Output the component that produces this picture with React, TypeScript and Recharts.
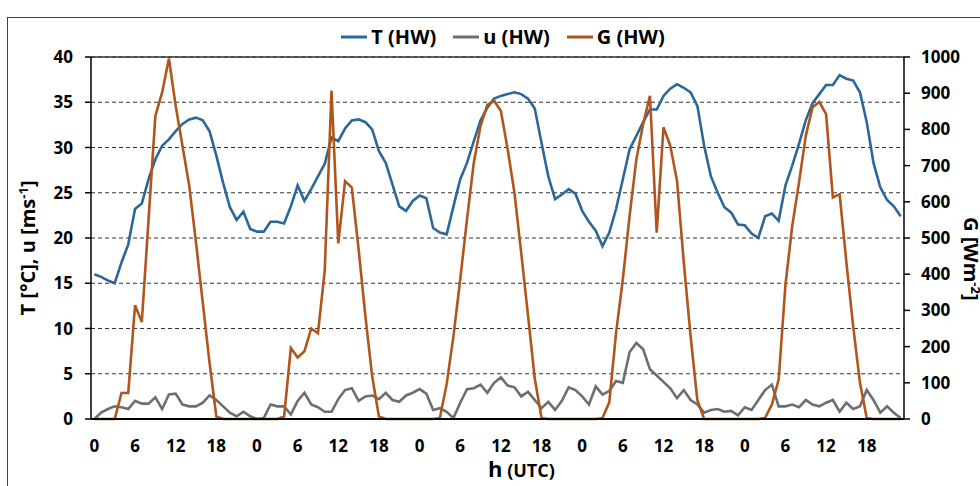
import React from "react";
import {
  LineChart,
  Line,
  XAxis,
  YAxis,
  CartesianGrid,
  Legend,
  ReferenceLine,
  Label,
} from "recharts";

// hourly values, 5 days x 24 h (one row per day)
const tempHW = [
  16.0, 15.7, 15.3, 15.0, 17.3, 19.3, 23.2, 23.8, 26.5, 28.7, 30.2, 30.9, 31.8, 32.6, 33.1, 33.3, 33.0, 31.8, 29.1, 26.1, 23.4, 22.0, 22.9, 21.0,
  20.7, 20.7, 21.8, 21.8, 21.6, 23.5, 25.8, 24.1, 25.4, 26.8, 28.2, 31.1, 30.7, 32.1, 33.0, 33.1, 32.8, 32.0, 29.6, 28.3, 25.9, 23.5, 23.0, 24.1,
  24.7, 24.4, 21.1, 20.6, 20.4, 23.5, 26.5, 28.3, 30.7, 33.0, 34.4, 35.4, 35.7, 35.9, 36.1, 35.9, 35.4, 34.3, 30.5, 26.8, 24.3, 24.8, 25.4, 24.9,
  23.0, 21.8, 20.8, 19.1, 20.6, 23.2, 26.5, 29.8, 31.3, 32.8, 34.2, 34.2, 35.7, 36.5, 37.0, 36.6, 36.1, 34.6, 30.2, 26.8, 25.0, 23.4, 22.8, 21.5,
  21.4, 20.5, 20.0, 22.4, 22.7, 21.9, 25.8, 28.0, 30.4, 33.0, 34.9, 35.9, 36.9, 36.9, 38.0, 37.6, 37.4, 36.1, 32.8, 28.3, 25.6, 24.2, 23.5, 22.4,
];

const windHW = [
  0.0, 0.7, 1.1, 1.4, 1.3, 1.1, 2.0, 1.7, 1.7, 2.4, 1.1, 2.7, 2.8, 1.6, 1.4, 1.4, 1.8, 2.6, 2.1, 1.4, 0.7, 0.3, 0.8, 0.3,
  0.0, 0.1, 1.6, 1.4, 1.4, 0.5, 2.0, 2.9, 1.6, 1.3, 0.8, 0.8, 2.2, 3.2, 3.4, 2.0, 2.5, 2.6, 2.2, 2.9, 2.1, 1.9, 2.6, 2.9,
  3.3, 2.8, 1.0, 1.2, 0.8, 0.1, 1.8, 3.3, 3.4, 3.8, 2.9, 4.0, 4.6, 3.7, 3.5, 2.5, 3.0, 2.1, 1.2, 1.9, 1.0, 2.0, 3.5, 3.2,
  2.5, 1.6, 3.6, 2.7, 3.1, 4.2, 4.0, 7.4, 8.4, 7.7, 5.5, 4.8, 4.1, 3.4, 2.3, 3.2, 2.1, 1.6, 0.7, 1.0, 1.1, 0.8, 0.9, 0.4,
  1.3, 1.0, 2.1, 3.2, 3.8, 1.4, 1.4, 1.6, 1.3, 2.1, 1.6, 1.4, 1.8, 2.1, 0.8, 1.8, 1.1, 1.4, 3.2, 2.1, 0.7, 1.4, 0.7, 0.1,
];

const radHW = [
  0, 0, 0, 0, 72, 72, 314, 268, 552, 837, 902, 996, 865, 755, 644, 487, 321, 155, 7, 0, 0, 0, 0, 0,
  0, 0, 0, 0, 7, 196, 170, 187, 250, 237, 410, 907, 485, 657, 639, 469, 284, 118, 7, 0, 0, 0, 0, 0,
  0, 0, 0, 3, 97, 229, 386, 552, 708, 810, 868, 879, 851, 745, 625, 459, 287, 112, 3, 0, 0, 0, 0, 0,
  0, 0, 0, 3, 46, 238, 386, 561, 718, 815, 893, 515, 806, 755, 658, 432, 229, 52, 0, 0, 0, 0, 0, 0,
  0, 0, 0, 3, 40, 109, 370, 533, 653, 782, 861, 876, 842, 612, 621, 432, 256, 100, 3, 0, 0, 0, 0, 0,
];

const seriesNames = ["T (HW)", "u (HW)", "G (HW)"];
const xTicks = [0, 6, 12, 18, 24, 30, 36, 42, 48, 54, 60, 66, 72, 78, 84, 90, 96, 102, 108, 114];
const hourLabels = ["0", "6", "12", "18"];
const leftTicks = [0, 5, 10, 15, 20, 25, 30, 35, 40];
const rightTicks = [0, 100, 200, 300, 400, 500, 600, 700, 800, 900, 1000];

const data = tempHW.map((t, i) => ({ h: i, T: t, u: windHW[i], G: radHW[i] }));

const FONT = "'Open Sans', 'DejaVu Sans', sans-serif";
const tickStyle = { fill: "#000", fontSize: 17, fontWeight: 700, fontFamily: FONT };

const renderLegend = (props: any) => {
  const items = [...(props.payload || [])].sort(
    (a: any, b: any) => seriesNames.indexOf(a.value) - seriesNames.indexOf(b.value)
  );
  return (
    <div
      style={{
        display: "flex",
        justifyContent: "center",
        gap: 17,
        fontFamily: FONT,
        fontWeight: 700,
        fontSize: 20,
        color: "#000",
      }}
    >
      {items.map((p: any) => (
        <span key={p.value} style={{ display: "flex", alignItems: "center" }}>
          <svg width={26} height={4} style={{ marginRight: 4 }}>
            <line x1={0} y1={2} x2={26} y2={2} stroke={p.color} strokeWidth={3} />
          </svg>
          {p.value}
        </span>
      ))}
    </div>
  );
};

const leftTitle = () => (
  <text
    transform="translate(35, 248) rotate(-90)"
    textAnchor="middle"
    fontFamily={FONT}
    fontWeight={700}
    fontSize={20}
    fill="#000"
  >
    T [°C], u [ms
    <tspan dy={-7} fontSize={13}>-1</tspan>
    <tspan dy={7}>]</tspan>
  </text>
);

const rightTitle = () => (
  <text
    transform="translate(964, 217) rotate(90)"
    textAnchor="start"
    fontFamily={FONT}
    fontWeight={700}
    fontSize={20}
    fill="#000"
  >
    G [Wm
    <tspan dy={-7} fontSize={13}>-2</tspan>
    <tspan dy={7}>]</tspan>
  </text>
);

const bottomTitle = () => (
  <text x={488} y={477} fontFamily={FONT} fontWeight={700} fill="#000">
    <tspan fontSize={22}>h</tspan>
    <tspan fontSize={18}> (UTC)</tspan>
  </text>
);

export default function App() {
  return (
    <div
      style={{
        position: "absolute",
        left: 0,
        top: 0,
        width: 980,
        height: 486,
        overflow: "hidden",
        background: "#fff",
      }}
    >
      <div
        style={{
          position: "absolute",
          left: 7,
          top: 17,
          width: 1000,
          height: 500,
          borderLeft: "1.5px solid #404040",
          borderTop: "1.5px solid #404040",
        }}
      />
      <div style={{ position: "absolute", left: 0, top: 0 }}>
        <LineChart
          width={980}
          height={486}
          data={data}
          margin={{ top: 57, right: 16, bottom: 37, left: 31 }}
        >
          <CartesianGrid
            yAxisId="left"
            vertical={false}
            stroke="#333"
            strokeDasharray="4 3"
          />
          <XAxis
            dataKey="h"
            type="number"
            domain={[-0.5, 119.5]}
            ticks={xTicks}
            interval={0}
            tickFormatter={(v: number) => hourLabels[(v / 6) % 4]}
            tickLine={false}
            tickMargin={15}
            height={30}
            axisLine={{ stroke: "#000", strokeWidth: 2 }}
            tick={tickStyle}
          >
            <Label content={bottomTitle} />
          </XAxis>
          <YAxis
            yAxisId="left"
            domain={[0, 40]}
            ticks={leftTicks}
            interval={0}
            width={60}
            tickSize={6}
            tickMargin={12}
            axisLine={{ stroke: "#000", strokeWidth: 1.5 }}
            tickLine={{ stroke: "#000", strokeWidth: 1.5 }}
            tick={tickStyle}
          >
            <Label content={leftTitle} />
          </YAxis>
          <YAxis
            yAxisId="right"
            orientation="right"
            domain={[0, 1000]}
            ticks={rightTicks}
            interval={0}
            width={60}
            tickSize={6}
            tickMargin={11}
            axisLine={{ stroke: "#000", strokeWidth: 1.5 }}
            tickLine={{ stroke: "#000", strokeWidth: 1.5 }}
            tick={{ ...tickStyle, textAnchor: "start" }}
          >
            <Label content={rightTitle} />
          </YAxis>
          <ReferenceLine yAxisId="left" y={40} stroke="#333" strokeWidth={1.3} />
          <Legend
            verticalAlign="middle"
            align="center"
            layout="horizontal"
            content={renderLegend}
            wrapperStyle={{ top: 23, left: 13, width: 980 }}
          />
          <Line
            yAxisId="left"
            dataKey="T"
            name="T (HW)"
            stroke="#2C679A"
            strokeWidth={2.6}
            dot={false}
            isAnimationActive={false}
          />
          <Line
            yAxisId="left"
            dataKey="u"
            name="u (HW)"
            stroke="#6E6E6E"
            strokeWidth={2.6}
            dot={false}
            isAnimationActive={false}
          />
          <Line
            yAxisId="right"
            dataKey="G"
            name="G (HW)"
            stroke="#B0561C"
            strokeWidth={2.6}
            dot={false}
            isAnimationActive={false}
          />
        </LineChart>
      </div>
    </div>
  );
}
